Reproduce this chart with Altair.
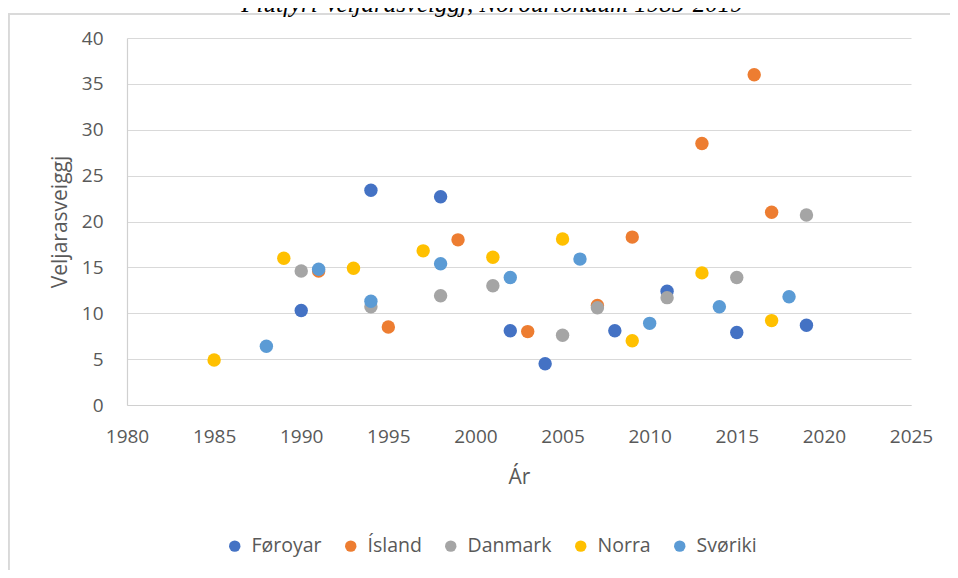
import altair as alt
import pandas as pd

# ---- data ----
series_names = ["Føroyar", "Ísland", "Danmark", "Norra", "Svøriki"]
series_colors = ["#4472C4", "#ED7D31", "#A5A5A5", "#FFC000", "#5B9BD5"]

years_foroyar = [1990, 1994, 1998, 2002, 2004, 2008, 2011, 2015, 2019]
vals_foroyar = [10.3, 23.4, 22.7, 8.1, 4.5, 8.1, 12.4, 7.9, 8.7]

years_island = [1991, 1995, 1999, 2003, 2007, 2009, 2013, 2016, 2017]
vals_island = [14.6, 8.5, 18.0, 8.0, 10.85, 18.3, 28.5, 36.0, 21.0]

years_danmark = [1990, 1994, 1998, 2001, 2005, 2007, 2011, 2015, 2019]
vals_danmark = [14.6, 10.7, 11.9, 13.0, 7.6, 10.6, 11.7, 13.9, 20.7]

years_norra = [1985, 1989, 1993, 1997, 2001, 2005, 2009, 2013, 2017]
vals_norra = [4.9, 16.0, 14.9, 16.8, 16.1, 18.1, 7.0, 14.4, 9.2]

years_svoriki = [1988, 1991, 1994, 1998, 2002, 2006, 2010, 2014, 2018]
vals_svoriki = [6.4, 14.8, 11.3, 15.4, 13.9, 15.9, 8.9, 10.7, 11.8]

x_ticks = [1980, 1985, 1990, 1995, 2000, 2005, 2010, 2015, 2020, 2025]
y_ticks = [0, 5, 10, 15, 20, 25, 30, 35, 40]

chart_title = "Flutfyri Veljarasveiggj, Norðurlondum 1985-2019"
x_title = "Ár"
y_title = "Veljarasveiggj"

# ---- build table ----
all_years = [years_foroyar, years_island, years_danmark, years_norra, years_svoriki]
all_vals = [vals_foroyar, vals_island, vals_danmark, vals_norra, vals_svoriki]
rows = []
for name, ys, vs in zip(series_names, all_years, all_vals):
    for y, v in zip(ys, vs):
        rows.append({"Land": name, "Ár": y, "Virði": v})
df = pd.DataFrame(rows)

FONT = "Open Sans"
W, H = 784, 367

points = alt.Chart(df).mark_circle(size=180, opacity=1).encode(
    x=alt.X(
        "Ár:Q",
        scale=alt.Scale(domain=[1980, 2025], nice=False, zero=False),
        axis=alt.Axis(
            values=x_ticks, format="d", grid=False, ticks=False,
            domainColor="#d0d0d0", domainWidth=1.2,
            labelColor="#595959", labelFont=FONT, labelFontSize=19,
            labelPadding=22, labelFlush=False, labelOverlap=False,
            title=x_title, titleFont=FONT, titleFontSize=21,
            titleFontWeight="normal", titleColor="#595959",
            titleBaseline="middle", titleY=72, titleX=W / 2,
        ),
    ),
    y=alt.Y(
        "Virði:Q",
        scale=alt.Scale(domain=[0, 40], nice=False),
        axis=alt.Axis(
            values=y_ticks, grid=True, gridColor="#d9d9d9", gridWidth=1.2,
            ticks=False, domainColor="#d0d0d0", domainWidth=1.2,
            labelColor="#595959", labelFont=FONT, labelFontSize=19,
            labelPadding=24, labelOverlap=False,
            title=y_title, titleFont=FONT, titleFontSize=21,
            titleFontWeight="normal", titleColor="#595959",
            titleAngle=-90, titleAlign="center", titleBaseline="middle",
            titleX=-67, titleY=H / 2,
        ),
    ),
    color=alt.Color(
        "Land:N",
        scale=alt.Scale(domain=series_names, range=series_colors),
        legend=alt.Legend(
            orient="none", direction="horizontal", legendX=98, legendY=498,
            title=None, symbolType="circle", symbolSize=130,
            symbolStrokeWidth=0, labelFont=FONT, labelFontSize=19.5,
            labelColor="#595959", labelOffset=7, columnPadding=19,
            padding=0,
        ),
    ),
)

# chart-area frame (top and left edges)
frame_top = alt.Chart(df).mark_rule(color="#d9d9d9", strokeWidth=1.2).encode(
    x=alt.value(-119), x2=alt.value(W + 60), y=alt.value(-24)
)
frame_left = alt.Chart(df).mark_rule(color="#d9d9d9", strokeWidth=1.2).encode(
    x=alt.value(-118.4), y=alt.value(-24), y2=alt.value(H + 200)
)

title_text = alt.Chart(pd.DataFrame({"t": [chart_title]})).mark_text(
    font="Liberation Serif", fontStyle="italic", fontSize=25,
    baseline="alphabetic", align="center", color="#000000",
).encode(text="t:N", x=alt.value(365), y=alt.value(-26))

chart = alt.layer(frame_top, frame_left, points, title_text).properties(
    width=W, height=H,
    autosize=alt.AutoSizeParams(type="none"),
    padding={"left": 119, "top": 30, "right": 39, "bottom": 165},
).configure_view(stroke=None)

chart.save("out.html", embed_options={"renderer": "svg", "actions": False})
